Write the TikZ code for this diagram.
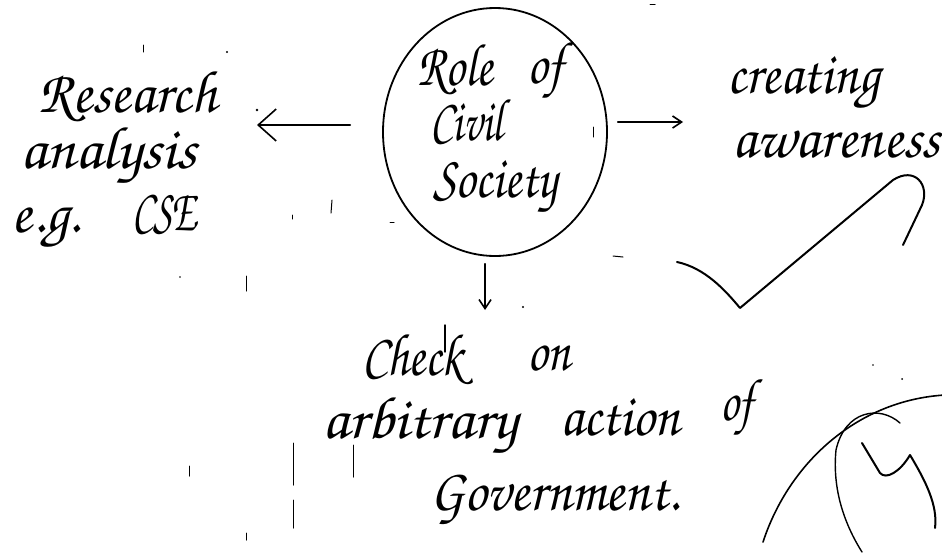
\documentclass[tikz,border=0pt]{standalone}
\usepackage[T1,TU]{fontenc}
\usepackage{graphicx}
\usetikzlibrary{shapes.geometric,arrows.meta}
\newcommand{\hw}{\fontencoding{T1}\fontfamily{pzc}\fontseries{mb}\fontshape{it}\fontsize{60}{70}\selectfont}
\newcommand{\hwbox}[2]{\resizebox{#1pt}{\height}{\hw #2}}
\tikzset{
  word/.style={anchor=base west, inner sep=0pt, outer sep=0pt},
  ink/.style={line width=1.8pt, line cap=round, line join=round},
  speck/.style={line width=1pt, line cap=round},
  bigarrow/.style={ink, -{Straight Barb[length=18pt,width=32pt,line width=1.6pt]}},
  smallarrow/.style={ink, -{Straight Barb[length=9pt,width=12pt,line width=1.6pt]}},
}
\begin{document}
\begin{tikzpicture}[x=1pt,y=-1pt]
\useasboundingbox (0,0) rectangle (942,552);
\fill[white] (0,0) rectangle (942,552);

% central ellipse
\node[draw, ellipse, line width=1.8pt, minimum width=224pt, minimum height=248pt, inner sep=0pt] (soc) at (495,132) {};
\node[word] (role) at (417,85) {\hwbox{76}{Role}};
\node[word] (rof) at (527,83) {\hwbox{36}{of}};
\node[word] (civil) at (430,140) {\hwbox{73}{Civil}};
\node[word] (society) at (433,197) {\hwbox{124}{Society}};

% left group
\node[word] (research) at (38,112) {\hwbox{179}{Research}};
\node[word] (analysis) at (20,168) {\hwbox{177}{analysis}};
\node[word] (eg) at (12,232) {\hwbox{68}{e.g.}};
\node[word] (cse) at (132,230) {\hwbox{65}{CSE}};

% right group
\node[word] (creating) at (727,93) {\hwbox{153}{creating}};
\node[word] (awareness) at (732,157) {\hwbox{208}{awareness}};

% bottom group
\node[word] (check) at (362,375) {\hwbox{101}{Check}};
\node[word] (on) at (527,370) {\hwbox{43}{on}};
\node[word] (arbitrary) at (322,438) {\hwbox{195}{arbitrary}};
\node[word] (action) at (560,435) {\hwbox{120}{action}};
\node[word] (bof) at (720,420) {\hwbox{33}{of}};
\node[word] (government) at (430,510) {\hwbox{250}{Government.}};

% arrows
\coordinate (lA) at ([xshift=-32pt,yshift=7pt]soc.west);
\coordinate (lB) at (257,125);
\draw[bigarrow] (lA) -- (lB);
\coordinate (rA) at ([xshift=10pt,yshift=10pt]soc.east);
\coordinate (rB) at (683,122);
\draw[smallarrow] (rA) -- (rB);
\coordinate (dA) at ([xshift=-10pt,yshift=-7pt]soc.south);
\coordinate (dB) at (485,310);
\draw[smallarrow] (dA) -- (dB);

% tick mark
\draw[ink, line width=2pt] (677,262) .. controls (705,268) and (725,290) .. (740,308)
  -- (893,180) .. controls (915,166) and (930,185) .. (922,205) -- (903,245);

% circled mark, lower right
\draw[ink, line width=1.6pt] (763,542) .. controls (790,460) and (860,400) .. (945,395);
\draw[ink, line width=1.4pt] (900,423) .. controls (880,405) and (845,410) .. (836,450)
  .. controls (832,490) and (845,525) .. (862,552);
\draw[ink, line width=2pt] (862,443) -- (880,473) .. controls (886,480) and (900,472) .. (910,455)
  .. controls (925,480) and (938,505) .. (935,528);

% ascender of k in Check
\draw[speck, line width=1.4pt] (445,325) -- (445,352);

% stray marks of the scan
\draw[speck] (293,443) -- (293,485);
\draw[speck] (293,500) -- (293,528);
\draw[speck] (353,445) -- (353,477);
\draw[speck] (246,276) -- (246,291);
\draw[speck] (246,533) -- (246,540);
\draw[speck] (189,466) -- (189,476);
\draw[speck] (613,256) -- (623,257);
\draw[speck] (593,127) -- (593,137);
\draw[speck] (650,4) -- (655,4);
\draw[speck] (143,45) -- (143,52);
\draw[speck] (332,200) -- (331,213);
\draw[speck] (292,215) -- (292,219);
\draw[speck] (390,222) -- (394,222);
\fill (227,52) circle (1.2pt);
\fill (257,110) circle (1.4pt);
\fill (523,307) circle (1.2pt);
\fill (873,365) circle (0.8pt);
\fill (902,379) circle (1pt);
\fill (180,277) circle (0.8pt);
\end{tikzpicture}
\end{document}
